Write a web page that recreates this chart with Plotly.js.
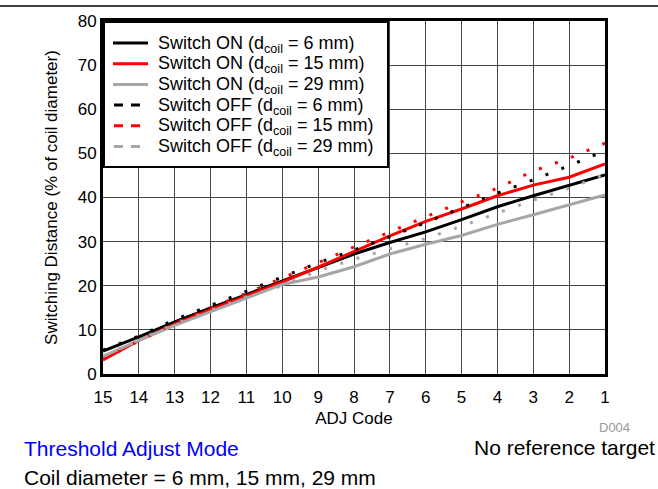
<!DOCTYPE html>
<html>
<head>
<meta charset="utf-8">
<script src="https://cdn.plot.ly/plotly-3.0.1.min.js"></script>
<style>html,body{margin:0;padding:0;background:#fff;}#chart{width:658px;height:489px;}</style>
</head>
<body>
<div id="chart"></div>
<script>
const adjCode = [15, 14, 13, 12, 11, 10, 9, 8, 7, 6, 5, 4, 3, 2, 1];
const onD6  = [5.2, 8.4, 11.8, 15.0, 18.0, 21.1, 24.2, 27.2, 29.8, 32.2, 35.0, 37.9, 40.4, 42.7, 45.1];
const onD15 = [3.2, 7.6, 11.3, 14.6, 17.7, 20.8, 24.2, 27.8, 31.3, 34.6, 37.4, 40.4, 42.8, 44.6, 47.6];
const onD29 = [4.0, 7.6, 11.0, 14.1, 17.3, 20.3, 22.0, 24.3, 27.2, 29.4, 31.4, 33.9, 36.1, 38.4, 40.6];
const offD6  = [5.4, 8.6, 12.3, 15.5, 18.8, 22.0, 25.2, 28.1, 31.1, 34.3, 37.6, 41.0, 44.0, 47.2, 50.6];
const offD15 = [3.3, 7.5, 11.5, 15.0, 18.3, 21.7, 25.2, 28.8, 32.2, 35.7, 39.0, 42.1, 46.0, 48.9, 52.3];
const offD29 = [4.0, 7.8, 11.3, 14.4, 17.5, 20.0, 23.4, 26.0, 28.4, 30.7, 33.5, 36.5, 39.4, 42.1, 45.3];
const seriesNames = [
  'Switch ON (d<sub>coil</sub> = 6 mm)',
  'Switch ON (d<sub>coil</sub> = 15 mm)',
  'Switch ON (d<sub>coil</sub> = 29 mm)',
  'Switch OFF (d<sub>coil</sub> = 6 mm)',
  'Switch OFF (d<sub>coil</sub> = 15 mm)',
  'Switch OFF (d<sub>coil</sub> = 29 mm)'
];
const seriesValues = [onD6, onD15, onD29, offD6, offD15, offD29];
const seriesColors = ['#000000', '#ff0000', '#a6a6a6', '#000000', '#ff0000', '#a6a6a6'];
const isOff = [false, false, false, true, true, true];

const traces = seriesValues.map((vals, i) => ({
  x: adjCode, y: vals, type: 'scatter', mode: 'lines',
  name: seriesNames[i], showlegend: false,
  line: {color: seriesColors[i], width: 3, dash: isOff[i] ? '3px,14px' : 'solid'},
  hoverinfo: 'skip'
}));

const L = 103, R = 53, T = 21, B = 115;
const PW = 658 - L - R, PH = 489 - T - B;
const px = X => (X - L) / PW;
const py = Y => (489 - B - Y) / PH;
const font = 'Liberation Sans, Arial, sans-serif';

// legend drawn as a boxed key inside the plot's top-left corner
const shapes = [{
  type: 'line', xref: 'paper', yref: 'paper',
  x0: px(0), x1: px(658), y0: py(6), y1: py(6),
  line: {color: '#000', width: 1.5}
}, {
  type: 'rect', xref: 'paper', yref: 'paper', layer: 'above',
  x0: px(104), x1: px(388), y0: py(22), y1: py(167),
  fillcolor: '#ffffff', line: {color: '#000', width: 2}
}];
const annotations = [];
seriesNames.forEach((name, i) => {
  const yRow = 43 + i * 20.7;
  shapes.push({
    type: 'line', xref: 'paper', yref: 'paper', layer: 'above',
    x0: px(isOff[i] ? 114 : 113), x1: px(isOff[i] ? 140 : 148), y0: py(yRow), y1: py(yRow),
    line: {color: seriesColors[i], width: 3, dash: isOff[i] ? '9px,8px' : 'solid'}
  });
  annotations.push({
    text: name, xref: 'paper', yref: 'paper', x: px(156), y: py(yRow + 1),
    xanchor: 'left', yanchor: 'middle', showarrow: false,
    font: {family: font, size: 18, color: '#000'}
  });
});
annotations.push(
  {text: 'D004', xref: 'paper', yref: 'paper', x: px(632), y: py(427), xanchor: 'right', yanchor: 'middle', showarrow: false, font: {family: font, size: 13, color: '#999'}},
  {text: 'Threshold Adjust Mode', xref: 'paper', yref: 'paper', x: px(22), y: py(448), xanchor: 'left', yanchor: 'middle', showarrow: false, font: {family: font, size: 21, color: '#0000ff'}},
  {text: 'No reference target', xref: 'paper', yref: 'paper', x: px(657), y: py(447), xanchor: 'right', yanchor: 'middle', showarrow: false, font: {family: font, size: 21, color: '#000'}},
  {text: 'Coil diameter = 6 mm, 15 mm, 29 mm', xref: 'paper', yref: 'paper', x: px(22), y: py(477), xanchor: 'left', yanchor: 'middle', showarrow: false, font: {family: font, size: 21, color: '#000'}}
);

const layout = {
  width: 658, height: 489,
  margin: {l: L, r: R, t: T, b: B, pad: 0},
  paper_bgcolor: '#ffffff', plot_bgcolor: '#ffffff',
  font: {family: font, size: 17, color: '#000'},
  showlegend: false,
  xaxis: {
    range: [15, 1], tickvals: adjCode, ticktext: adjCode.map(String),
    showgrid: true, gridcolor: '#444', gridwidth: 1,
    showline: true, linecolor: '#000', linewidth: 3, mirror: true,
    zeroline: false, ticks: 'outside', ticklen: 6, tickcolor: 'rgba(0,0,0,0)',
    tickfont: {family: font, size: 17, color: '#000'},
    title: {text: 'ADJ Code', font: {family: font, size: 17, color: '#000'}, standoff: 6}
  },
  yaxis: {
    range: [0, 80], dtick: 10, tick0: 0,
    showgrid: true, gridcolor: '#444', gridwidth: 1,
    showline: true, linecolor: '#000', linewidth: 3, mirror: true,
    zeroline: false, ticks: '', ticklen: 0,
    tickfont: {family: font, size: 17, color: '#000'},
    title: {text: 'Switching Distance (% of coil diameter)', font: {family: font, size: 17, color: '#000'}, standoff: 16}
  },
  shapes: shapes,
  annotations: annotations
};

Plotly.newPlot('chart', traces, layout, {displayModeBar: false, staticPlot: true});
</script>
</body>
</html>
